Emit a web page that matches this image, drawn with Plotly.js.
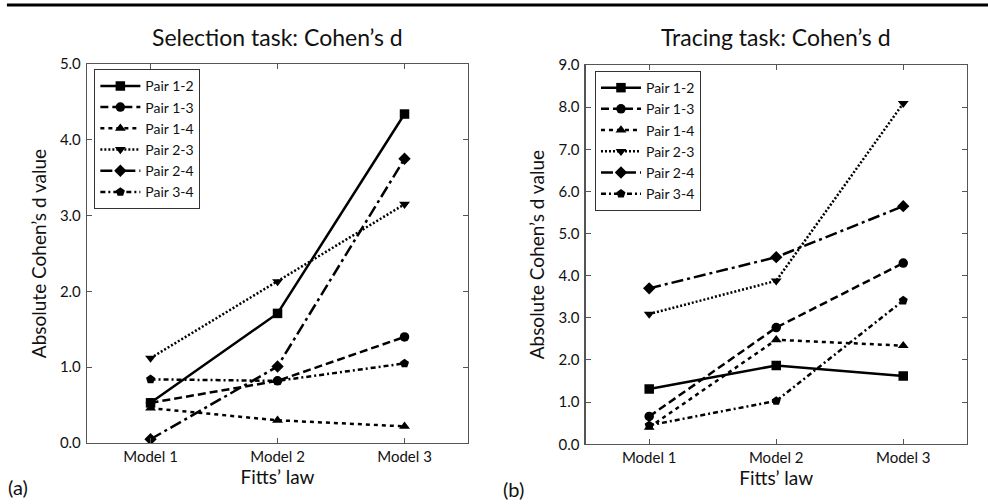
<!DOCTYPE html>
<html>
<head>
<meta charset="utf-8">
<script src="https://cdn.plot.ly/plotly-3.0.1.min.js"></script>
<style>html,body{margin:0;padding:0;background:#fff;}#chart{width:988px;height:504px;}</style>
</head>
<body>
<div id="chart"></div>
<script>
// ---- data ----
const models = ['Model 1', 'Model 2', 'Model 3'];
const pairs = ['Pair 1-2', 'Pair 1-3', 'Pair 1-4', 'Pair 2-3', 'Pair 2-4', 'Pair 3-4'];

// Selection task (a)
const selP12 = [0.53, 1.71, 4.34];
const selP13 = [0.53, 0.82, 1.40];
const selP14 = [0.46, 0.30, 0.22];
const selP23 = [1.12, 2.13, 3.15];
const selP24 = [0.05, 1.01, 3.75];
const selP34 = [0.84, 0.82, 1.05];

// Tracing task (b)
const traP12 = [1.31, 1.87, 1.62];
const traP13 = [0.66, 2.77, 4.30];
const traP14 = [0.40, 2.48, 2.34];
const traP23 = [3.09, 3.88, 8.09];
const traP24 = [3.70, 4.44, 5.65];
const traP34 = [0.45, 1.03, 3.41];

const yTicksSel = [0, 1, 2, 3, 4, 5];
const yTicksTra = [0, 1, 2, 3, 4, 5, 6, 7, 8, 9];

// ---- styles ----
const dashes = ['solid', '8px,4px', '4px,4px', '2px,2px', '12px,4px,3px,4px', '5px,3px,2px,3px'];
const symbols = ['square', 'circle', 'triangle-up', 'triangle-down', 'diamond', 'pentagon'];
const FONT = 'Lato, "Open Sans", sans-serif';
const TXT = '#111';

const selSeries = [selP12, selP13, selP14, selP23, selP24, selP34];
const traSeries = [traP12, traP13, traP14, traP23, traP24, traP34];

const traces = [];
selSeries.forEach((vals, i) => {
  traces.push({
    x: models, y: vals, name: pairs[i], type: 'scatter', mode: 'lines+markers',
    xaxis: 'x', yaxis: 'y', legend: 'legend',
    line: {color: '#000', width: 2.5, dash: dashes[i]},
    marker: {symbol: symbols[i], size: 9.5, color: '#000'}
  });
});
traSeries.forEach((vals, i) => {
  traces.push({
    x: models, y: vals, name: pairs[i], type: 'scatter', mode: 'lines+markers',
    xaxis: 'x2', yaxis: 'y2', legend: 'legend2',
    line: {color: '#000', width: 2.5, dash: dashes[i]},
    marker: {symbol: symbols[i], size: 9.5, color: '#000'}
  });
});

const axisCommon = {
  showline: true, linecolor: '#555', linewidth: 1.2, mirror: 'ticks',
  ticks: 'inside', ticklen: 5, tickcolor: '#555', tickwidth: 1,
  showgrid: false, zeroline: false, fixedrange: true,
  tickfont: {family: FONT, size: 15, color: TXT}
};

function xAx(domain, anchor) {
  return Object.assign({}, axisCommon, {
    domain: domain, anchor: anchor, type: 'category',
    range: [-0.5, 2.5],
    title: {text: 'Fitts’ law', font: {family: FONT, size: 19, color: TXT}, standoff: 6}
  });
}
function yAx(domain, anchor, range, ticks) {
  return Object.assign({}, axisCommon, {
    domain: domain, anchor: anchor, range: range,
    tickvals: ticks, tickformat: '.1f', ticklabelstandoff: 2,
    title: {text: 'Absolute Cohen’s d value', font: {family: FONT, size: 19, color: TXT}, standoff: 8}
  });
}

const legendCommon = {
  bgcolor: '#fff', bordercolor: '#333', borderwidth: 1,
  font: {family: FONT, size: 14, color: TXT},
  xanchor: 'left', yanchor: 'top', itemwidth: 40, tracegroupgap: 0,
  itemclick: false, itemdoubleclick: false
};

const layout = {
  width: 988, height: 504,
  margin: {l: 0, r: 0, t: 0, b: 0},
  paper_bgcolor: '#fff', plot_bgcolor: '#fff',
  showlegend: true,
  xaxis: xAx([0.0881, 0.4737], 'y'),
  yaxis: yAx([0.121, 0.873], 'x', [0, 5], yTicksSel),
  xaxis2: xAx([0.5928, 0.9785], 'y2'),
  yaxis2: yAx([0.1185, 0.871], 'x2', [0, 9], yTicksTra),
  legend: Object.assign({}, legendCommon, {x: 0.0955, y: 0.8625}),
  legend2: Object.assign({}, legendCommon, {x: 0.6022, y: 0.859}),
  annotations: [
    {text: 'Selection task: Cohen’s d', x: 0.2809, y: 0.926, xref: 'paper', yref: 'paper',
     xanchor: 'center', yanchor: 'middle', showarrow: false, font: {family: FONT, size: 23, color: TXT}},
    {text: 'Tracing task: Cohen’s d', x: 0.7855, y: 0.926, xref: 'paper', yref: 'paper',
     xanchor: 'center', yanchor: 'middle', showarrow: false, font: {family: FONT, size: 23, color: TXT}},
    {text: '(a)', x: 0.006, y: 0.034, xref: 'paper', yref: 'paper',
     xanchor: 'left', yanchor: 'middle', showarrow: false, font: {family: FONT, size: 20, color: TXT}},
    {text: '(b)', x: 0.507, y: 0.03, xref: 'paper', yref: 'paper',
     xanchor: 'left', yanchor: 'middle', showarrow: false, font: {family: FONT, size: 20, color: TXT}}
  ],
  shapes: [
    {type: 'line', xref: 'paper', yref: 'paper', x0: 0.007, x1: 1, y0: 0.99, y1: 0.99,
     line: {color: '#000', width: 3}}
  ]
};

Plotly.newPlot('chart', traces, layout, {displayModeBar: false, staticPlot: true});
</script>
</body>
</html>
